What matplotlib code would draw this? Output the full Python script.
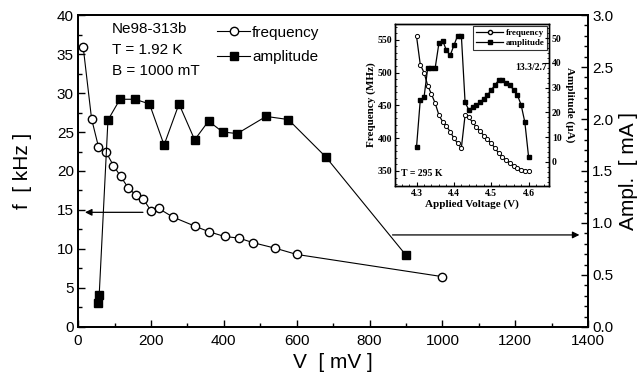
import numpy as np
import matplotlib
matplotlib.use("Agg")
import matplotlib.pyplot as plt
from matplotlib.lines import Line2D
from matplotlib.ticker import MultipleLocator

plt.rcParams['font.family'] = ['Liberation Sans', 'DejaVu Sans']

# main data: frequency (kHz) and amplitude (mA) vs voltage (mV)
freq_v = [14, 37, 56, 77, 97, 117, 138, 159, 179, 200, 221, 260, 322, 360,
          402, 441, 481, 541, 600, 1000]
freq_khz = [35.9, 26.7, 23.1, 22.4, 20.7, 19.3, 17.8, 16.9, 16.4, 14.9, 15.2,
            14.1, 12.9, 12.2, 11.6, 11.4, 10.8, 10.1, 9.3, 6.45]

amp_v = [54, 58, 82, 115, 156, 196, 236, 277, 320, 358, 397, 437, 516, 577, 680, 900]
amp_ma = [0.23, 0.31, 1.99, 2.19, 2.19, 2.145, 1.75, 2.145, 1.80, 1.98, 1.875,
          1.86, 2.025, 1.995, 1.635, 0.69]

# inset data: room temperature sample
in_v = [4.30, 4.31, 4.32, 4.33, 4.34, 4.35, 4.36, 4.37, 4.38, 4.39, 4.40,
        4.41, 4.42, 4.43, 4.44, 4.45, 4.46, 4.47, 4.48, 4.49, 4.50, 4.51,
        4.52, 4.53, 4.54, 4.55, 4.56, 4.57, 4.58, 4.59, 4.60]
in_freq = [555, 512, 500, 480, 467, 453, 435, 425, 418, 410, 400, 392, 385,
           435, 432, 424, 417, 411, 404, 398, 392, 385, 377, 371, 366, 362,
           358, 355, 352, 350, 350]
in_amp = [6, 25, 26, 38, 38, 38, 48, 49, 45, 43, 47, 51, 51,
          24, 21, 22, 23, 24, 25.5, 27, 29, 31, 33, 33, 32, 31, 29, 27, 23, 16, 2]

fig = plt.figure(figsize=(6.4, 3.86), dpi=100)
ax = fig.add_axes([0.122, 0.153, 0.797, 0.808])
ax2 = ax.twinx()

ax.plot(freq_v, freq_khz, '-o', color='black', lw=0.8, ms=6,
        mfc='white', mec='black', mew=1.0, zorder=3)
ax2.plot(amp_v, amp_ma, '-s', color='black', lw=0.8, ms=6,
         mfc='black', mec='black', zorder=3)

ax.set_xlim(0, 1400)
ax.set_ylim(0, 40)
ax2.set_ylim(0, 3.0)
ax.xaxis.set_major_locator(MultipleLocator(200))
ax.xaxis.set_minor_locator(MultipleLocator(100))
ax.yaxis.set_major_locator(MultipleLocator(5))
ax.yaxis.set_minor_locator(MultipleLocator(2.5))
ax2.yaxis.set_major_locator(MultipleLocator(0.5))
ax2.yaxis.set_minor_locator(MultipleLocator(0.1))
ax2.yaxis.set_major_formatter(matplotlib.ticker.FormatStrFormatter('%.1f'))

for a in (ax, ax2):
    for s in a.spines.values():
        s.set_linewidth(1.3)
ax.tick_params(which='both', direction='in', top=False, right=False, labelsize=11, pad=3)
ax.tick_params(axis='x', pad=5)
ax.tick_params(which='major', length=5, width=1)
ax.tick_params(which='minor', length=3, width=1)
ax2.tick_params(which='both', direction='in', labelsize=11, pad=3)
ax2.tick_params(which='major', length=5, width=1)
ax2.tick_params(which='minor', length=3, width=1)

ax.set_xlabel('V  [ mV ]', fontsize=15, labelpad=4)
ax.set_ylabel('f  [ kHz ]', fontsize=15, labelpad=18)
ax2.set_ylabel('Ampl.  [ mA ]', fontsize=15, labelpad=4)

ax.text(93, 38.2, 'Ne98-313b', fontsize=11, va='center')
ax.text(93, 35.5, 'T = 1.92 K', fontsize=11, va='center')
ax.text(93, 32.8, 'B = 1000 mT', fontsize=11, va='center')

handles = [Line2D([], [], color='black', lw=0.8, marker='o', ms=6, mfc='white', mec='black'),
           Line2D([], [], color='black', lw=0.8, marker='s', ms=6, mfc='black')]
ax.legend(handles, ['frequency', 'amplitude'], loc='upper left',
          bbox_to_anchor=(0.245, 1.01), frameon=False, fontsize=11,
          handlelength=2.2, handletextpad=0.1, labelspacing=0.7)

# arrows pointing to the relevant axis
ax.annotate('', xy=(19, 14.7), xytext=(178, 14.7),
            arrowprops=dict(arrowstyle='-|>', color='black', lw=0.9,
                            mutation_scale=10, shrinkA=0, shrinkB=0))
ax.annotate('', xy=(1376, 11.8), xytext=(863, 11.8),
            arrowprops=dict(arrowstyle='-|>', color='black', lw=0.9,
                            mutation_scale=10, shrinkA=0, shrinkB=0))

# inset
serif = ['Liberation Serif', 'DejaVu Serif']
ins = fig.add_axes([0.617, 0.518, 0.241, 0.420])
ins2 = ins.twinx()
ins.plot(in_v, in_freq, '-o', color='black', lw=0.9, ms=3,
         mfc='white', mec='black', mew=0.7)
ins2.plot(in_v, in_amp, '-s', color='black', lw=0.9, ms=3, mfc='black')
ins.set_xlim(4.242, 4.655)
ins.set_ylim(327, 574)
ins2.set_ylim(-9.8, 55.7)
ins.xaxis.set_major_locator(MultipleLocator(0.1))
ins.xaxis.set_minor_locator(MultipleLocator(0.02))
ins.yaxis.set_major_locator(MultipleLocator(50))
ins.yaxis.set_minor_locator(MultipleLocator(10))
ins2.yaxis.set_major_locator(MultipleLocator(10))
ins2.yaxis.set_minor_locator(MultipleLocator(2))
for a in (ins, ins2):
    for s in a.spines.values():
        s.set_linewidth(1.0)
    a.tick_params(which='both', direction='in', labelsize=7, pad=2)
    a.tick_params(which='major', length=3)
    a.tick_params(which='minor', length=1.5)
    for lab in a.get_xticklabels() + a.get_yticklabels():
        lab.set_family(serif)
        lab.set_fontweight('bold')
ins.set_xlabel('Applied Voltage (V)', fontsize=8, fontweight='bold', family=serif, labelpad=1)
ins.set_ylabel('Frequency (MHz)', fontsize=8, fontweight='bold', family=serif, labelpad=1)
ins2.set_ylabel('Amplitude (\u00b5A)', fontsize=8, fontweight='bold', family=serif,
                rotation=270, labelpad=9)
ins.text(0.04, 0.08, 'T = 295 K', transform=ins.transAxes, fontsize=7,
         fontweight='bold', family=serif, va='center')
ins.text(0.985, 0.73, '13.3/2.7', transform=ins.transAxes, fontsize=7,
         fontweight='bold', family=serif, va='center', ha='right')
ih = [Line2D([], [], color='black', lw=0.9, marker='o', ms=3, mfc='white', mec='black'),
      Line2D([], [], color='black', lw=0.9, marker='s', ms=3, mfc='black')]
leg = ins.legend(ih, ['frequency', 'amplitude'], loc='upper right',
                 prop=dict(family=serif, weight='bold', size=6.5), frameon=True,
                 fancybox=False, edgecolor='black', handlelength=3.0,
                 borderpad=0.3, labelspacing=0.2, handletextpad=0.3,
                 borderaxespad=0.2)
leg.get_frame().set_linewidth(0.8)

fig.savefig('out.png', dpi=100)
